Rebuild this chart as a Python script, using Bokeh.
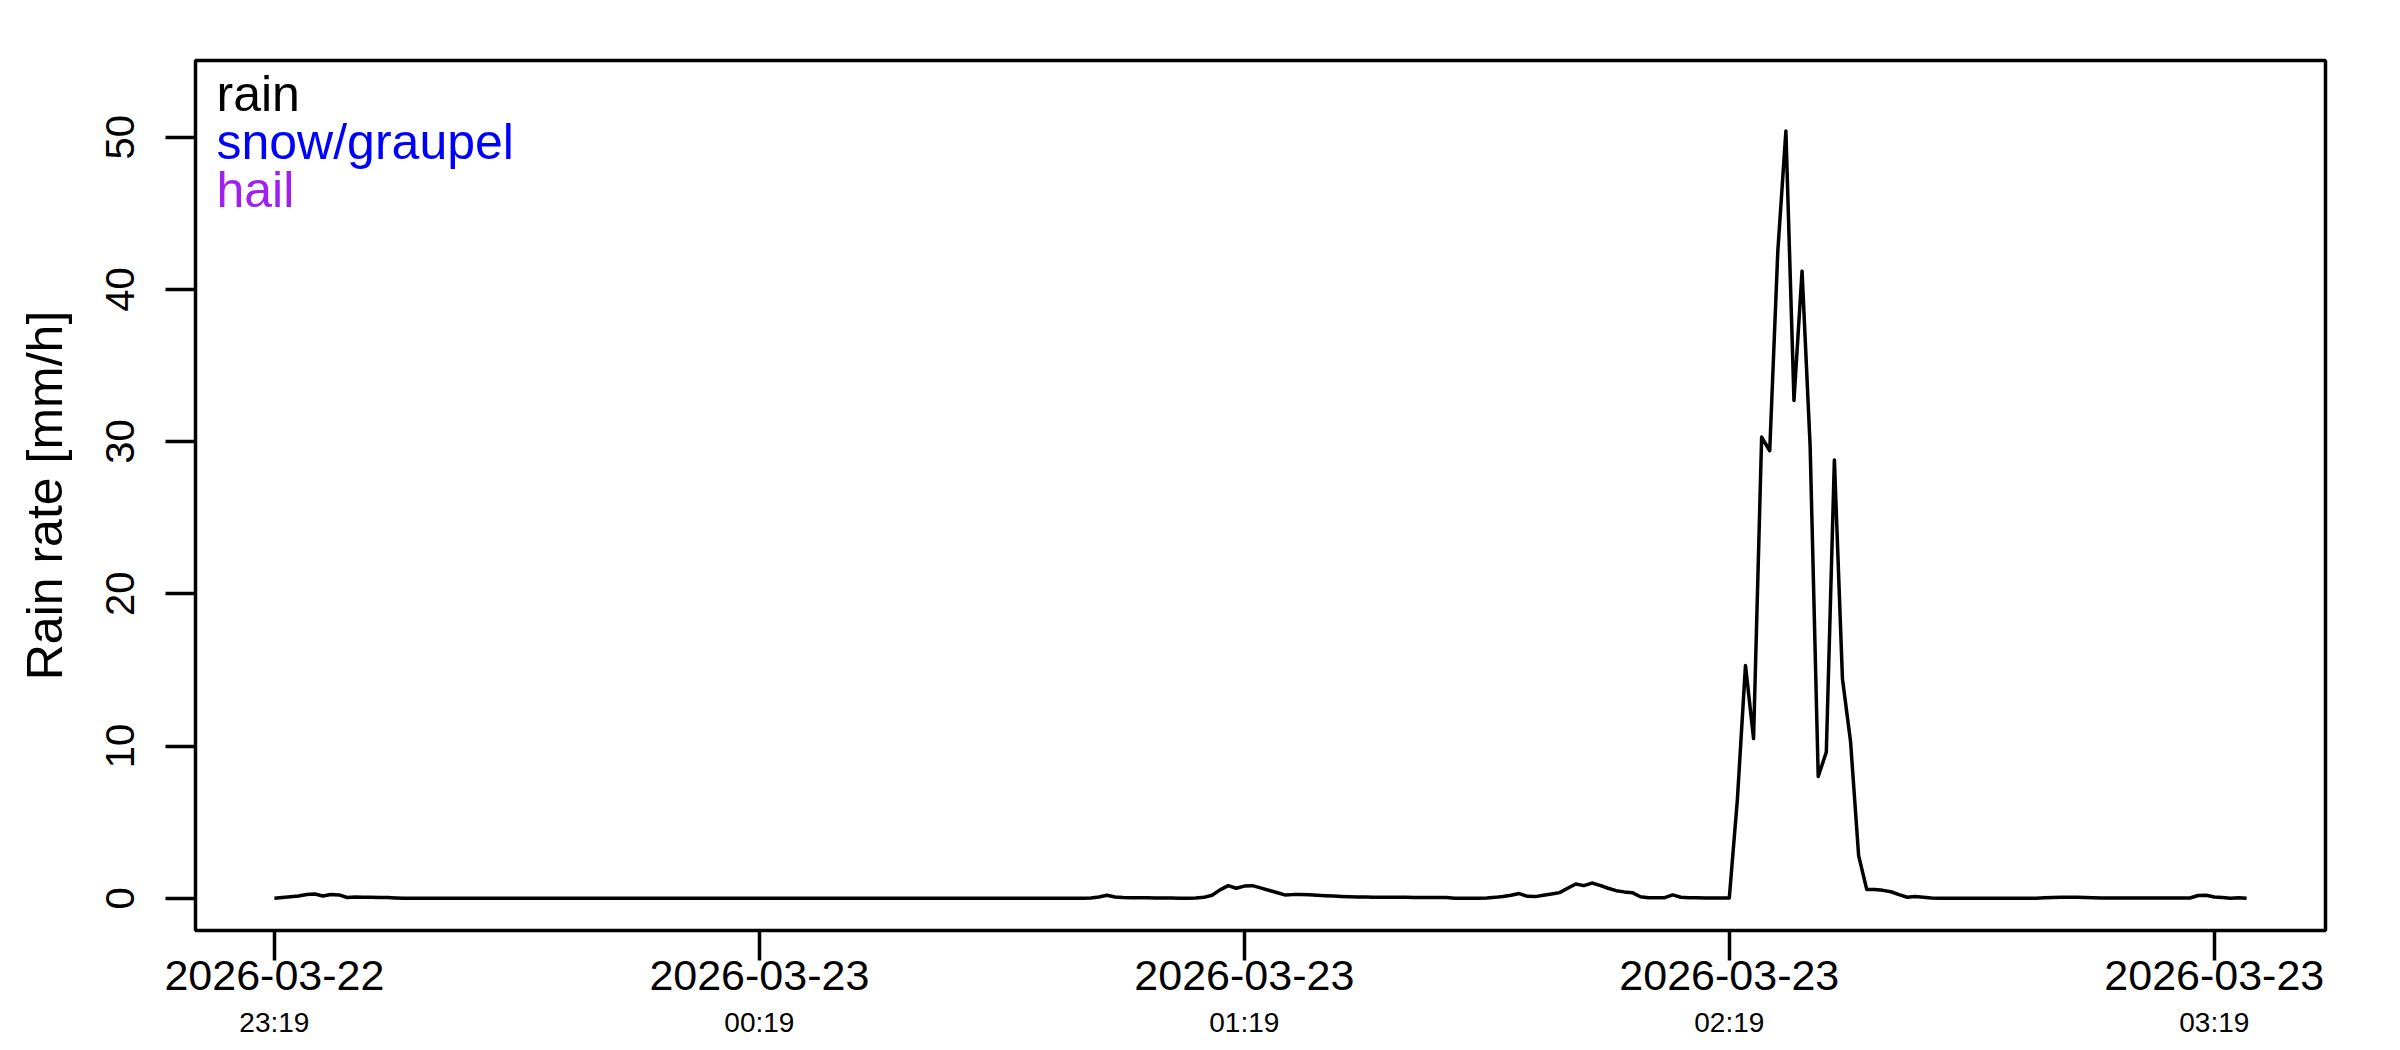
import pandas as pd
from bokeh.plotting import figure
from bokeh.models import Range1d, LinearAxis, FixedTicker, Label
from bokeh.embed import file_html
from bokeh.resources import INLINE

# ---------------- data ----------------
start_time = "2026-03-22 23:19"   # one value per minute

rain_rate = [
    # 23:19 - 23:34
    0.0, 0.05, 0.1, 0.15, 0.25, 0.28, 0.15, 0.25, 0.22, 0.05, 0.08, 0.07, 0.06, 0.05, 0.05, 0.02,
    # 23:35 - 00:59
    0.0, 0.0, 0.0, 0.0, 0.0, 0.0, 0.0, 0.0, 0.0, 0.0, 0.0, 0.0, 0.0, 0.0, 0.0, 0.0, 0.0,
    0.0, 0.0, 0.0, 0.0, 0.0, 0.0, 0.0, 0.0, 0.0, 0.0, 0.0, 0.0, 0.0, 0.0, 0.0, 0.0, 0.0,
    0.0, 0.0, 0.0, 0.0, 0.0, 0.0, 0.0, 0.0, 0.0, 0.0, 0.0, 0.0, 0.0, 0.0, 0.0, 0.0, 0.0,
    0.0, 0.0, 0.0, 0.0, 0.0, 0.0, 0.0, 0.0, 0.0, 0.0, 0.0, 0.0, 0.0, 0.0, 0.0, 0.0, 0.0,
    0.0, 0.0, 0.0, 0.0, 0.0, 0.0, 0.0, 0.0, 0.0, 0.0, 0.0, 0.0, 0.0, 0.0, 0.0, 0.0, 0.0,
    # 01:00 - 01:11
    0.02, 0.08, 0.2, 0.08, 0.05, 0.04, 0.03, 0.03, 0.02, 0.02, 0.02, 0.01,
    # 01:12 - 01:44
    0.0, 0.02, 0.06, 0.2, 0.55, 0.83, 0.66, 0.8, 0.83, 0.68, 0.53, 0.38, 0.22, 0.24, 0.24, 0.23,
    0.2, 0.17, 0.15, 0.12, 0.1, 0.09, 0.08, 0.07, 0.07, 0.07, 0.07, 0.07, 0.05, 0.05, 0.05, 0.05, 0.05,
    # 01:45 - 02:19
    0.0, 0.0, 0.0, 0.0, 0.02, 0.06, 0.12, 0.2, 0.31, 0.13, 0.11, 0.2, 0.28, 0.37, 0.66,
    0.94, 0.83, 1.0, 0.85, 0.66, 0.5, 0.42, 0.37, 0.1, 0.03, 0.03, 0.04, 0.22, 0.07, 0.04,
    0.03, 0.02, 0.02, 0.02, 0.02,
    # 02:20 - 02:44
    6.5, 15.3, 10.5, 30.3, 29.4, 42.5, 50.4, 32.7, 41.2, 29.7, 8.0, 9.6, 28.8, 14.4, 10.3,
    2.8, 0.58, 0.58, 0.52, 0.43, 0.24, 0.07, 0.11, 0.06, 0.02,
    # 02:45 - 03:23
    0.0, 0.0, 0.0, 0.0, 0.0, 0.0, 0.0, 0.0, 0.0, 0.0, 0.0, 0.0, 0.0,
    0.03, 0.05, 0.07, 0.07, 0.06, 0.05, 0.04,
    0.02, 0.02, 0.02, 0.02, 0.02, 0.02, 0.02, 0.02, 0.02, 0.02, 0.02, 0.02,
    0.18, 0.2, 0.08, 0.05, 0.0, 0.04, 0.0,
]

tick_dates = ["2026-03-22", "2026-03-23", "2026-03-23", "2026-03-23", "2026-03-23"]
tick_times = ["23:19", "00:19", "01:19", "02:19", "03:19"]
y_ticks = [0, 10, 20, 30, 40, 50]

legend_labels = ["rain", "snow/graupel", "hail"]
legend_colors = ["#000000", "#0000FF", "#A020F0"]

y_label = "Rain rate [mm/h]"

# ---------------- derived ----------------
EPOCH = pd.Timestamp("1970-01-01")
MS = pd.Timedelta(milliseconds=1)
times = pd.date_range(start_time, periods=len(rain_rate), freq="min")
x_ms = [float((t - EPOCH) // MS) for t in times]
tick_ms = [float((pd.Timestamp(d + " " + t) - EPOCH) // MS) for d, t in zip(tick_dates, tick_times)]

span = x_ms[-1] - x_ms[0]
x_range = Range1d(x_ms[0] - 0.04 * span, x_ms[-1] + 0.04 * span)
y_lim_top = max(rain_rate) * 1.05
y_range = Range1d(-0.04 * y_lim_top, 1.04 * y_lim_top)

FONT = "Liberation Sans"
LW = 3.5

p = figure(
    frame_width=2130, frame_height=870,
    x_range=x_range, y_range=y_range,
    x_axis_type=None,
    output_backend="svg", toolbar_location=None,
    min_border_left=195, min_border_right=75,
    min_border_top=60, min_border_bottom=120,
    background_fill_color="white", border_fill_color="white",
)
p.grid.visible = False
p.outline_line_color = "black"
p.outline_line_width = LW
p.outline_line_alpha = 1.0

# data line
p.line(x_ms, rain_rate, line_color="black", line_width=LW, line_join="round")

# y axis
ya = p.yaxis[0]
ya.ticker = FixedTicker(ticks=y_ticks)
ya.axis_line_color = None
ya.major_tick_out = 30
ya.major_tick_in = 0
ya.minor_tick_out = 0
ya.minor_tick_in = 0
ya.major_tick_line_width = LW
ya.major_tick_line_color = "black"
ya.major_label_orientation = "vertical"
ya.major_label_text_font = FONT
ya.major_label_text_font_size = "40px"
ya.major_label_text_color = "black"
ya.major_label_standoff = 31
ya.axis_label = y_label
ya.axis_label_text_font = FONT
ya.axis_label_text_font_size = "50px"
ya.axis_label_text_font_style = "normal"
ya.axis_label_text_color = "black"
ya.axis_label_standoff = 31

# x axis: dates
xa1 = LinearAxis(
    ticker=FixedTicker(ticks=tick_ms),
    major_label_overrides={tv: d for tv, d in zip(tick_ms, tick_dates)},
    axis_line_color=None,
    major_tick_out=30, major_tick_in=0,
    minor_tick_out=0, minor_tick_in=0,
    major_tick_line_width=LW, major_tick_line_color="black",
    major_label_text_font=FONT, major_label_text_font_size="43px",
    major_label_text_color="black",
    major_label_standoff=0,
)
p.add_layout(xa1, "below")

# x axis: times
xa2 = LinearAxis(
    ticker=FixedTicker(ticks=tick_ms),
    major_label_overrides={tv: t for tv, t in zip(tick_ms, tick_times)},
    axis_line_color=None,
    major_tick_out=0, major_tick_in=0,
    minor_tick_out=0, minor_tick_in=0,
    major_tick_line_color=None, minor_tick_line_color=None,
    major_label_text_font=FONT, major_label_text_font_size="28px",
    major_label_text_color="black",
    major_label_standoff=14,
)
p.add_layout(xa2, "below")

# legend texts (top-left, no box)
xspan = x_range.end - x_range.start
yspan = y_range.end - y_range.start
leg_x = x_range.start + (21.0 / 2130.0) * xspan
for i, (lab, col) in enumerate(zip(legend_labels, legend_colors)):
    off = 33.0 + 48.0 * i
    p.add_layout(Label(
        x=leg_x, y=y_range.end - off / 870.0 * yspan,
        text=lab, text_color=col,
        text_font=FONT, text_font_size="50px",
        text_align="left", text_baseline="alphabetic",
    ))

open("out.html", "w").write(file_html(p, INLINE))
